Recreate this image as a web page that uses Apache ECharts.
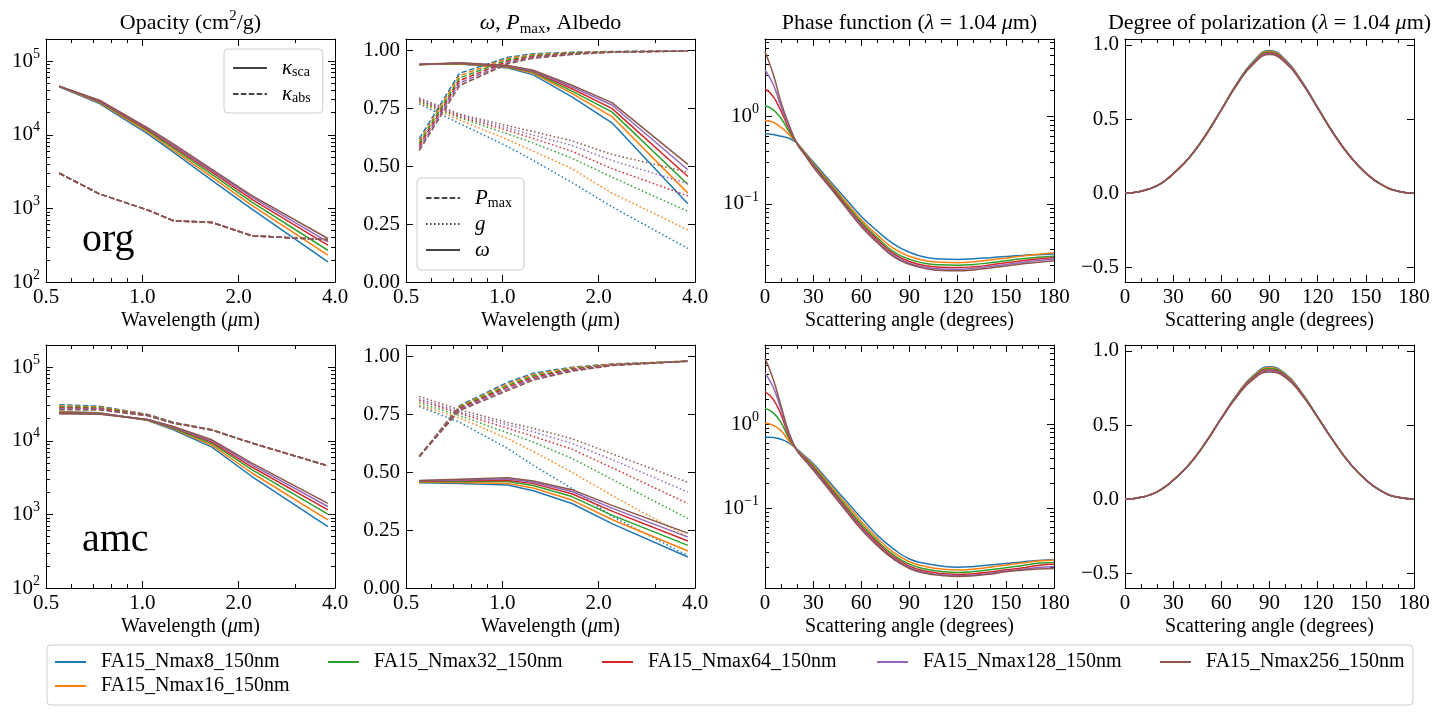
<!DOCTYPE html>
<html>
<head>
<meta charset="utf-8">
<title>FA15 Nmax comparison</title>
<script src="https://cdn.jsdelivr.net/npm/echarts@6/dist/echarts.min.js"></script>
<style>
html, body { margin: 0; padding: 0; background: #fff; }
#main { width: 1440px; height: 720px; }
</style>
</head>
<body>
<div id="main"></div>
<script>
var FONT = 'Liberation Serif';

// ====== data ======
var models = ['FA15_Nmax8_150nm', 'FA15_Nmax16_150nm', 'FA15_Nmax32_150nm',
              'FA15_Nmax64_150nm', 'FA15_Nmax128_150nm', 'FA15_Nmax256_150nm'];
var colors = ['#1f77b4', '#ff7f0e', '#2ca02c', '#d62728', '#9467bd', '#8c564b'];

var wavelengths = [0.55, 0.735, 1.04, 1.25, 1.65, 2.2, 3.8];
var angles = [0, 5, 10, 15, 20, 25, 30, 40, 50, 60, 70, 80, 90, 100, 110, 120, 130, 140, 150, 160, 170, 180];

// org : opacity (cm2/g)
var orgKsca = [
  [45000, 26600, 10300, 5800, 2400, 980, 187],
  [45200, 27400, 10900, 6200, 2650, 1100, 231],
  [45400, 28000, 11400, 6600, 2900, 1220, 270],
  [45500, 28500, 11800, 6900, 3100, 1330, 316],
  [45600, 29000, 12100, 7200, 3250, 1420, 351],
  [45700, 29500, 12400, 7500, 3400, 1490, 390]
];
var orgKabs = [
  [3000, 1570, 950, 680, 645, 425, 375],
  [3000, 1570, 950, 680, 645, 425, 375],
  [3000, 1570, 950, 680, 645, 425, 375],
  [3000, 1570, 950, 680, 645, 425, 375],
  [3000, 1570, 950, 680, 645, 425, 375],
  [3000, 1570, 950, 680, 645, 425, 375]
];
// org : Pmax, g, omega
var orgPmax = [
  [0.619, 0.902, 0.971, 0.986, 0.993, 0.996, 0.998],
  [0.608, 0.892, 0.966, 0.982, 0.991, 0.995, 0.998],
  [0.598, 0.881, 0.960, 0.978, 0.989, 0.995, 0.998],
  [0.588, 0.870, 0.954, 0.974, 0.987, 0.994, 0.998],
  [0.578, 0.860, 0.948, 0.970, 0.985, 0.993, 0.998],
  [0.568, 0.849, 0.943, 0.967, 0.983, 0.993, 0.998]
];
var orgG = [
  [0.770, 0.685, 0.585, 0.525, 0.430, 0.325, 0.145],
  [0.775, 0.700, 0.615, 0.565, 0.490, 0.384, 0.225],
  [0.780, 0.710, 0.640, 0.600, 0.535, 0.453, 0.305],
  [0.785, 0.715, 0.655, 0.620, 0.565, 0.490, 0.372],
  [0.790, 0.720, 0.665, 0.635, 0.590, 0.525, 0.425],
  [0.795, 0.725, 0.675, 0.650, 0.610, 0.551, 0.475]
];
var orgOmega = [
  [0.940, 0.942, 0.925, 0.895, 0.800, 0.688, 0.338],
  [0.940, 0.943, 0.928, 0.902, 0.815, 0.715, 0.384],
  [0.940, 0.944, 0.930, 0.906, 0.825, 0.735, 0.421],
  [0.940, 0.945, 0.932, 0.909, 0.835, 0.750, 0.456],
  [0.940, 0.946, 0.934, 0.912, 0.843, 0.765, 0.485],
  [0.940, 0.947, 0.936, 0.915, 0.850, 0.775, 0.508]
];
// org : phase function and polarization at 1.04 um
var orgPhase = [
  [0.636, 0.624, 0.593, 0.565, 0.494, 0.387, 0.303, 0.187, 0.116, 0.072, 0.049, 0.035, 0.028, 0.0245, 0.0235, 0.0232, 0.0236, 0.0243, 0.0251, 0.0258, 0.0263, 0.0267],
  [0.90, 0.86, 0.75, 0.62, 0.493, 0.380, 0.292, 0.178, 0.108, 0.066, 0.044, 0.031, 0.0252, 0.0224, 0.0215, 0.0213, 0.0218, 0.0228, 0.0240, 0.0253, 0.0265, 0.0277],
  [1.33, 1.20, 0.95, 0.67, 0.491, 0.373, 0.284, 0.171, 0.102, 0.062, 0.041, 0.0285, 0.0233, 0.0208, 0.0201, 0.0199, 0.0203, 0.0212, 0.0224, 0.0236, 0.0246, 0.0253],
  [2.07, 1.70, 1.15, 0.72, 0.490, 0.367, 0.277, 0.166, 0.098, 0.059, 0.039, 0.027, 0.0220, 0.0196, 0.0189, 0.0187, 0.0191, 0.0200, 0.0212, 0.0224, 0.0235, 0.0243],
  [3.40, 2.35, 1.30, 0.76, 0.489, 0.363, 0.271, 0.162, 0.095, 0.057, 0.037, 0.026, 0.0210, 0.0188, 0.0180, 0.0179, 0.0183, 0.0192, 0.0203, 0.0214, 0.0225, 0.0234],
  [5.50, 3.10, 1.45, 0.80, 0.487, 0.359, 0.265, 0.158, 0.093, 0.055, 0.036, 0.025, 0.0204, 0.0182, 0.0173, 0.0172, 0.0176, 0.0185, 0.0195, 0.0206, 0.0216, 0.0224]
];
var orgPol = [
  [0, 0.003, 0.012, 0.028, 0.050, 0.085, 0.130, 0.240, 0.390, 0.565, 0.745, 0.890, 0.963, 0.900, 0.757, 0.578, 0.402, 0.252, 0.136, 0.055, 0.013, 0],
  [0, 0.003, 0.012, 0.028, 0.050, 0.085, 0.130, 0.240, 0.389, 0.564, 0.743, 0.885, 0.957, 0.895, 0.754, 0.577, 0.401, 0.251, 0.136, 0.055, 0.013, 0],
  [0, 0.003, 0.012, 0.028, 0.050, 0.085, 0.130, 0.240, 0.388, 0.563, 0.742, 0.882, 0.951, 0.890, 0.752, 0.576, 0.400, 0.251, 0.135, 0.055, 0.013, 0],
  [0, 0.003, 0.012, 0.028, 0.050, 0.085, 0.130, 0.239, 0.387, 0.562, 0.740, 0.878, 0.946, 0.886, 0.750, 0.575, 0.400, 0.250, 0.135, 0.055, 0.013, 0],
  [0, 0.003, 0.012, 0.028, 0.050, 0.085, 0.130, 0.239, 0.386, 0.561, 0.738, 0.875, 0.940, 0.882, 0.748, 0.574, 0.399, 0.250, 0.135, 0.055, 0.013, 0],
  [0, 0.003, 0.012, 0.028, 0.050, 0.085, 0.130, 0.239, 0.385, 0.560, 0.736, 0.871, 0.935, 0.878, 0.746, 0.573, 0.398, 0.249, 0.134, 0.055, 0.013, 0]
];

// amc : opacity (cm2/g)
var amcKsca = [
  [25000, 24000, 18800, 14100, 8200, 3270, 682],
  [24600, 23800, 19000, 14500, 8700, 3650, 841],
  [24200, 23600, 19200, 14800, 9200, 4050, 1010],
  [23800, 23400, 19300, 15100, 9600, 4400, 1150],
  [23500, 23200, 19400, 15400, 9950, 4700, 1280],
  [23200, 23000, 19500, 15700, 10300, 4980, 1410]
];
var amcKabs = [
  [30800, 29500, 22800, 17800, 14100, 9300, 4570],
  [29800, 28800, 22600, 17700, 14100, 9300, 4570],
  [28900, 28100, 22400, 17600, 14100, 9300, 4570],
  [28000, 27400, 22200, 17500, 14000, 9300, 4570],
  [27200, 26800, 22000, 17400, 14000, 9300, 4570],
  [26400, 26200, 21800, 17300, 14000, 9300, 4570]
];
// amc : Pmax, g, omega
var amcPmax = [
  [0.568, 0.788, 0.889, 0.928, 0.954, 0.968, 0.980],
  [0.568, 0.784, 0.882, 0.922, 0.951, 0.967, 0.980],
  [0.568, 0.780, 0.875, 0.916, 0.947, 0.965, 0.980],
  [0.568, 0.776, 0.868, 0.910, 0.944, 0.964, 0.980],
  [0.568, 0.772, 0.860, 0.904, 0.940, 0.962, 0.980],
  [0.568, 0.767, 0.853, 0.899, 0.937, 0.961, 0.980]
];
var amcG = [
  [0.785, 0.716, 0.603, 0.530, 0.430, 0.310, 0.140],
  [0.790, 0.735, 0.645, 0.590, 0.500, 0.400, 0.220],
  [0.800, 0.745, 0.670, 0.630, 0.560, 0.470, 0.300],
  [0.810, 0.755, 0.690, 0.655, 0.600, 0.520, 0.365],
  [0.818, 0.760, 0.705, 0.675, 0.625, 0.555, 0.415],
  [0.828, 0.770, 0.715, 0.690, 0.645, 0.580, 0.457]
];
var amcOmega = [
  [0.455, 0.452, 0.445, 0.420, 0.365, 0.278, 0.134],
  [0.457, 0.456, 0.452, 0.432, 0.380, 0.296, 0.160],
  [0.459, 0.460, 0.460, 0.443, 0.395, 0.315, 0.184],
  [0.461, 0.464, 0.466, 0.451, 0.407, 0.332, 0.203],
  [0.463, 0.467, 0.471, 0.457, 0.417, 0.345, 0.220],
  [0.465, 0.470, 0.476, 0.462, 0.425, 0.357, 0.237]
];
// amc : phase function and polarization at 1.04 um
var amcPhase = [
  [0.71, 0.70, 0.665, 0.600, 0.504, 0.417, 0.343, 0.207, 0.126, 0.077, 0.048, 0.033, 0.0250, 0.0221, 0.0206, 0.0200, 0.0204, 0.0212, 0.0221, 0.0231, 0.0240, 0.0247],
  [1.03, 0.98, 0.84, 0.635, 0.500, 0.405, 0.328, 0.195, 0.117, 0.070, 0.044, 0.030, 0.0232, 0.0204, 0.0190, 0.0185, 0.0190, 0.0200, 0.0212, 0.0224, 0.0236, 0.0243],
  [1.55, 1.38, 1.05, 0.675, 0.496, 0.395, 0.315, 0.185, 0.109, 0.065, 0.041, 0.028, 0.0217, 0.0190, 0.0178, 0.0173, 0.0177, 0.0186, 0.0197, 0.0208, 0.0222, 0.0228],
  [2.44, 2.00, 1.30, 0.715, 0.492, 0.386, 0.304, 0.177, 0.103, 0.061, 0.039, 0.0265, 0.0206, 0.0180, 0.0168, 0.0164, 0.0167, 0.0175, 0.0186, 0.0196, 0.0210, 0.0216],
  [4.05, 2.80, 1.50, 0.755, 0.488, 0.378, 0.295, 0.171, 0.099, 0.058, 0.037, 0.0256, 0.0198, 0.0173, 0.0162, 0.0158, 0.0161, 0.0169, 0.0180, 0.0188, 0.0198, 0.0202],
  [6.10, 3.50, 1.65, 0.790, 0.485, 0.372, 0.286, 0.166, 0.096, 0.056, 0.036, 0.0250, 0.0193, 0.0169, 0.0159, 0.0155, 0.0158, 0.0165, 0.0176, 0.0184, 0.0190, 0.0193]
];
var amcPol = [
  [0, 0.003, 0.012, 0.027, 0.049, 0.083, 0.127, 0.235, 0.380, 0.548, 0.710, 0.835, 0.893, 0.845, 0.720, 0.555, 0.390, 0.243, 0.131, 0.052, 0.012, 0],
  [0, 0.003, 0.012, 0.027, 0.049, 0.083, 0.127, 0.235, 0.380, 0.547, 0.707, 0.830, 0.886, 0.840, 0.717, 0.554, 0.390, 0.243, 0.131, 0.052, 0.012, 0],
  [0, 0.003, 0.012, 0.027, 0.049, 0.083, 0.127, 0.234, 0.379, 0.546, 0.704, 0.825, 0.879, 0.835, 0.714, 0.553, 0.389, 0.242, 0.130, 0.052, 0.012, 0],
  [0, 0.003, 0.012, 0.027, 0.049, 0.083, 0.127, 0.234, 0.378, 0.545, 0.701, 0.820, 0.872, 0.830, 0.711, 0.552, 0.389, 0.242, 0.130, 0.052, 0.012, 0],
  [0, 0.003, 0.012, 0.027, 0.049, 0.083, 0.127, 0.234, 0.377, 0.544, 0.698, 0.815, 0.865, 0.825, 0.708, 0.551, 0.388, 0.241, 0.130, 0.052, 0.012, 0],
  [0, 0.003, 0.012, 0.027, 0.049, 0.083, 0.127, 0.233, 0.376, 0.543, 0.695, 0.810, 0.858, 0.820, 0.705, 0.550, 0.388, 0.241, 0.129, 0.052, 0.012, 0]
];

// tick values
var wlMajor = [0.5, 1, 2, 4];
var wlMinor = [0.6, 0.7, 0.8, 0.9, 3];
var angMajor = [0, 30, 60, 90, 120, 150, 180];
var angMinor = [10, 20, 40, 50, 70, 80, 100, 110, 130, 140, 160, 170];
var opMajor = [100, 1000, 10000, 100000];
var opMinor = [200, 300, 400, 500, 600, 700, 800, 900,
               2000, 3000, 4000, 5000, 6000, 7000, 8000, 9000,
               20000, 30000, 40000, 50000, 60000, 70000, 80000, 90000];
var phMajor = [0.1, 1];
var phMinor = [0.02, 0.03, 0.04, 0.05, 0.06, 0.07, 0.08, 0.09,
               0.2, 0.3, 0.4, 0.5, 0.6, 0.7, 0.8, 0.9, 2, 3, 4, 5, 6, 7, 8];
var albMajor = [0, 0.25, 0.5, 0.75, 1];
var polMajor = [-0.5, 0, 0.5, 1];

// ====== layout ======
var cellLeft = [46, 406, 765, 1125];
var cellTop = [39, 345];
var cellW = 289, cellH = 243;

var RICH = {
  t: { fontFamily: FONT, fontSize: 21, lineHeight: 28, color: '#000' },
  it: { fontFamily: FONT, fontSize: 21, lineHeight: 28, fontStyle: 'italic', color: '#000' },
  b: { fontFamily: FONT, fontSize: 21, lineHeight: 28, color: '#000' },
  e: { fontFamily: FONT, fontSize: 14, lineHeight: 12, verticalAlign: 'top', color: '#000' },
  sub: { fontFamily: FONT, fontSize: 14, lineHeight: 14, verticalAlign: 'bottom', color: '#000' }
};
var TITLE_RICH = {
  t: { fontFamily: FONT, fontSize: 22, lineHeight: 28, color: '#000' },
  it: { fontFamily: FONT, fontSize: 22, lineHeight: 28, fontStyle: 'italic', color: '#000' },
  e: { fontFamily: FONT, fontSize: 15, lineHeight: 12, verticalAlign: 'top', color: '#000' },
  sub: { fontFamily: FONT, fontSize: 15, lineHeight: 14, verticalAlign: 'bottom', color: '#000' }
};
var NAME_RICH = {
  t: { fontFamily: FONT, fontSize: 20, lineHeight: 28, color: '#000' },
  it: { fontFamily: FONT, fontSize: 20, lineHeight: 28, fontStyle: 'italic', color: '#000' }
};
var LEG_RICH = {
  g: { width: 10 },
  it: { fontFamily: FONT, fontSize: 21, lineHeight: 22, fontStyle: 'italic', color: '#000' },
  sub: { fontFamily: FONT, fontSize: 14, lineHeight: 12, verticalAlign: 'bottom', color: '#000' }
};

function fmtLog(v) {
  var e = Math.round(Math.log10(v));
  return '{b|10}{e|' + (e < 0 ? '\u2212' + (-e) : e) + '}';
}
function fmtWl(v) { return v.toFixed(1); }
function fmtAng(v) { return String(v); }
function fmtAlb(v) { return v.toFixed(2); }
function fmtPol(v) { return (v < 0 ? '\u2212' : '') + Math.abs(v).toFixed(1); }

var grids = [], xAxes = [], yAxes = [], series = [], legends = [], titles = [];
var axX = [], axY = [];

function axisDef(gi, spec, pos, ticks, len, main, labels) {
  var a = {
    gridIndex: gi, type: spec.type, min: spec.min, max: spec.max, position: pos,
    axisLine: { show: main, onZero: false, lineStyle: { color: '#000', width: 1 } },
    axisTick: { show: true, inside: true, length: len, customValues: ticks,
                lineStyle: { color: '#000', width: 1 } },
    axisLabel: { show: false },
    splitLine: { show: false },
    silent: true
  };
  if (spec.logBase) a.logBase = spec.logBase;
  if (labels) {
    a.axisLabel = { show: true, customValues: ticks, formatter: spec.fmt, margin: spec.margin,
                    color: '#000', fontFamily: FONT, fontSize: 21, rich: RICH };
    if (spec.name) {
      a.name = spec.name;
      a.nameLocation = 'middle';
      a.nameGap = 25;
      a.nameTextStyle = { fontFamily: FONT, fontSize: 20, color: '#000', rich: NAME_RICH };
    }
  }
  return a;
}

function makeAxes(list, gi, sides, spec) {
  var idx = list.length;
  list.push(axisDef(gi, spec, sides[0], spec.major, 7, true, true));
  list.push(axisDef(gi, spec, sides[1], spec.major, 7, true, false));
  if (spec.minor) {
    list.push(axisDef(gi, spec, sides[0], spec.minor, 4, false, false));
    list.push(axisDef(gi, spec, sides[1], spec.minor, 4, false, false));
  }
  return idx;
}

var wlSpec = { type: 'log', logBase: 2, min: 0.5, max: 4, major: wlMajor, minor: wlMinor, fmt: fmtWl,
               margin: 5, name: '{t|Wavelength (}{it|\u03bc}{t|m)}' };
var angSpec = { type: 'value', min: 0, max: 180, major: angMajor, minor: angMinor, fmt: fmtAng,
                margin: 5, name: '{t|Scattering angle (degrees)}' };
var opSpec = { type: 'log', logBase: 10, min: 100, max: 200000, major: opMajor, minor: opMinor, fmt: fmtLog, margin: 6 };
var albSpec = { type: 'value', min: 0, max: 1.05, major: albMajor, fmt: fmtAlb, margin: 6 };
var ph1Spec = { type: 'log', logBase: 10, min: 0.0128, max: 7.7, major: phMajor, minor: phMinor, fmt: fmtLog, margin: 6 };
var ph2Spec = { type: 'log', logBase: 10, min: 0.0113, max: 8.8, major: phMajor, minor: phMinor, fmt: fmtLog, margin: 6 };
var polSpec = { type: 'value', min: -0.6, max: 1.04, major: polMajor, fmt: fmtPol, margin: 6 };

var panelSpecs = [
  [wlSpec, opSpec], [wlSpec, albSpec], [angSpec, ph1Spec], [angSpec, polSpec],
  [wlSpec, opSpec], [wlSpec, albSpec], [angSpec, ph2Spec], [angSpec, polSpec]
];

panelSpecs.forEach(function (ps, gi) {
  grids.push({ left: cellLeft[gi % 4], top: cellTop[Math.floor(gi / 4)], width: cellW, height: cellH });
  axX[gi] = makeAxes(xAxes, gi, ['bottom', 'top'], ps[0]);
  axY[gi] = makeAxes(yAxes, gi, ['left', 'right'], ps[1]);
});

function addLine(name, color, gi, xs, ys, dash, smooth) {
  series.push({
    name: name, type: 'line', xAxisIndex: axX[gi], yAxisIndex: axY[gi],
    data: xs.map(function (x, i) { return [x, ys[i]]; }),
    symbol: 'none', showSymbol: false,
    smooth: smooth ? 0.5 : false,
    lineStyle: { color: color, width: 1.5, type: dash || 'solid' },
    itemStyle: { color: color },
    silent: true, animation: false, clip: true
  });
}

var DASH = [5.5, 2.4];
var DOT = [1.5, 2.5];

// ======org / amc panels======
[[orgKsca, orgKabs, orgPmax, orgG, orgOmega, orgPhase, orgPol],
 [amcKsca, amcKabs, amcPmax, amcG, amcOmega, amcPhase, amcPol]].forEach(function (set, row) {
  var g0 = row * 4;
  models.forEach(function (m, i) {
    addLine(m, colors[i], g0, wavelengths, set[0][i], 'solid', false);
    addLine(m, colors[i], g0, wavelengths, set[1][i], DASH, false);
  });
  models.forEach(function (m, i) {
    addLine(m, colors[i], g0 + 1, wavelengths, set[2][i], DASH, false);
    addLine(m, colors[i], g0 + 1, wavelengths, set[3][i], DOT, false);
    addLine(m, colors[i], g0 + 1, wavelengths, set[4][i], 'solid', false);
  });
  models.forEach(function (m, i) {
    addLine(m, colors[i], g0 + 2, angles, set[5][i], 'solid', true);
  });
  models.forEach(function (m, i) {
    addLine(m, colors[i], g0 + 3, angles, set[6][i], 'solid', true);
  });
});

// legend-only line styles
addLine('kappa_sca', '#444', 0, [], [], 'solid', false);
addLine('kappa_abs', '#444', 0, [], [], DASH, false);
addLine('P_max', '#444', 1, [], [], DASH, false);
addLine('g_asym', '#444', 1, [], [], DOT, false);
addLine('omega', '#444', 1, [], [], 'solid', false);
series.slice(-5).forEach(function (s) { s.lineStyle.width = 1.8; });

var legendText = {
  kappa_sca: '{g| }{it|\u03ba}{sub|sca}',
  kappa_abs: '{g| }{it|\u03ba}{sub|abs}',
  P_max: '{g| }{it|P}{sub|max}',
  g_asym: '{g| }{it|g}',
  omega: '{g| }{it|\u03c9}'
};
function panelLegend(names, left, top, gap, lh) {
  legends.push({
    data: names, orient: 'vertical', left: left, top: top, itemWidth: 34, itemHeight: 14, itemGap: gap,
    padding: [8, 12, 8, 8], borderColor: '#cccccc', borderWidth: 1, borderRadius: 4,
    backgroundColor: 'rgba(255,255,255,0.8)', selectedMode: false,
    itemStyle: { opacity: 0 },
    formatter: function (n) { return legendText[n]; },
    textStyle: { fontFamily: FONT, fontSize: 21, color: '#000', lineHeight: lh, rich: LEG_RICH }
  });
}
panelLegend(['kappa_sca', 'kappa_abs'], 224, 49, 4, 22);
panelLegend(['P_max', 'g_asym', 'omega'], 417, 178, 2, 24);

// bottom legend, matplotlib ncol=5 fill order
var legPos = [[54, 662], [54, 686], [327, 662], [601, 662], [876, 662], [1159, 662]];
models.forEach(function (m, i) {
  legends.push({
    data: [m], left: legPos[i][0], top: legPos[i][1] - 10, padding: 0,
    itemWidth: 31, itemHeight: 14, selectedMode: false,
    itemStyle: { opacity: 0 },
    formatter: function (n) { return '{g| }{t|' + n + '}'; },
    textStyle: { fontFamily: FONT, fontSize: 20, color: '#000', lineHeight: 20,
                 rich: { g: { width: 10 }, t: { fontFamily: FONT, fontSize: 20, lineHeight: 20, color: '#000' } } }
  });
});

// titles
var titleTexts = [
  '{t|Opacity (cm}{e|2}{t|/g)}',
  '{it|\u03c9}{t|, }{it|P}{sub|max}{t|, Albedo}',
  '{t|Phase function (}{it|\u03bb}{t| = 1.04 }{it|\u03bc}{t|m)}',
  '{t|Degree of polarization (}{it|\u03bb}{t| = 1.04 }{it|\u03bc}{t|m)}'
];
titleTexts.forEach(function (t, i) {
  titles.push({
    text: t, left: cellLeft[i] + cellW / 2, top: 9, textAlign: 'center', padding: 0,
    textStyle: { fontFamily: FONT, fontSize: 22, fontWeight: 'normal', color: '#000', rich: TITLE_RICH }
  });
});
titles.push({ text: 'org', left: 82, top: 218, padding: 0,
  textStyle: { fontFamily: FONT, fontSize: 40, fontWeight: 'normal', color: '#000', lineHeight: 44 } });
titles.push({ text: 'amc', left: 82, top: 518, padding: 0,
  textStyle: { fontFamily: FONT, fontSize: 40, fontWeight: 'normal', color: '#000', lineHeight: 44 } });

var chart = echarts.init(document.getElementById('main'), null, { renderer: 'canvas' });
chart.setOption({
  backgroundColor: '#fff',
  animation: false,
  textStyle: { fontFamily: FONT },
  title: titles,
  legend: legends,
  grid: grids,
  xAxis: xAxes,
  yAxis: yAxes,
  series: series,
  graphic: [{
    type: 'rect', z: 0, silent: true,
    shape: { x: 47, y: 645, width: 1366, height: 60, r: 4 },
    style: { fill: 'rgba(255,255,255,0.8)', stroke: '#cccccc', lineWidth: 1 }
  }]
});
</script>
</body>
</html>
